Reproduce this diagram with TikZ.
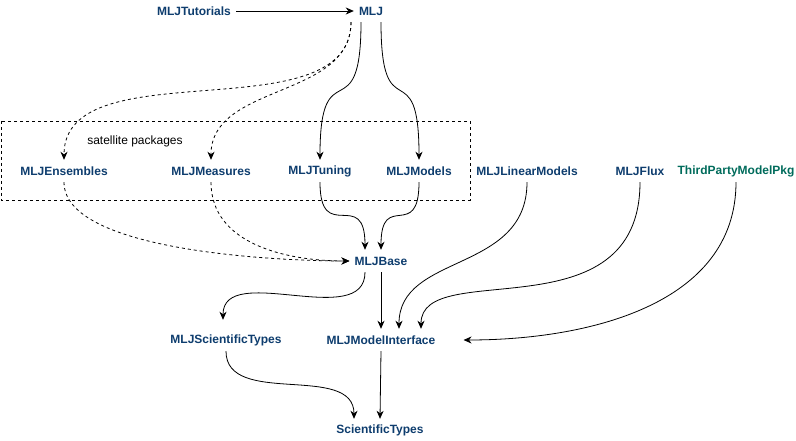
\documentclass[tikz,border=0pt]{standalone}
\usepackage{fontspec}
\setmainfont{Liberation Sans}
\usetikzlibrary{arrows.meta}

\definecolor{mljblue}{RGB}{14,61,110}
\definecolor{mljteal}{RGB}{0,107,91}

\begin{document}
\begin{tikzpicture}[x=1pt, y=-1pt,
    font=\fontsize{12pt}{14pt}\selectfont,
    >={Stealth[length=8pt,width=7pt,inset=2.5pt]},
    pkg/.style={font=\fontsize{12pt}{14pt}\selectfont\bfseries, text=mljblue, inner xsep=5pt, inner ysep=0pt, minimum height=22pt},
    dep/.style={->, line width=0.8pt},
    weakdep/.style={->, line width=0.8pt, dash pattern=on 3pt off 3pt}]

      \useasboundingbox (0,0) rectangle (796,441);

      % satellite box
      \draw [line width=0.8pt, dash pattern=on 3pt off 3pt] (1,121) rectangle (470,200);
      \node (satlabel) at (135,141) {satellite packages};

      \node[pkg] (tut) at (194,11) {MLJTutorials};
      \node[pkg] (mlj) at (371,11) {MLJ};

      \node[pkg] (ens) at (64,171) {MLJEnsembles};
      \node[pkg] (meas) at (211,171) {MLJMeasures};
      \node[pkg] (tuning) at (320,171) {MLJTuning};
      \node[pkg] (models) at (419,171) {MLJModels};
      \node[pkg] (lin) at (527,171) {MLJLinearModels};
      \node[pkg] (flux) at (640,171) {MLJFlux};
      \node[pkg, text=mljteal] (third) at (736,171) {ThirdPartyModelPkg};

      \node[pkg] (base) at (381,261) {MLJBase};
      \node[pkg] (sci) at (226,340) {MLJScientificTypes};
      \node[pkg] (mi) at (381,340) {MLJModelInterface};
      \node[pkg] (st) at (380,430) {ScientificTypes};

      \draw [dep] (tut) -- (mlj);

      \draw [weakdep] ([xshift=-20pt]mlj.south) to[out=-90, in=90, looseness=0.9] (ens.north);
      \draw [weakdep] ([xshift=-20pt]mlj.south) to[out=-90, in=90] (meas.north);
      \draw [dep] ([xshift=-10pt]mlj.south) to[out=-90, in=90, looseness=2] (tuning.north);
      \draw [dep] ([xshift=10pt]mlj.south) to[out=-90, in=90, looseness=2] (models.north);

      \draw [weakdep] (ens.south) to[out=-90, in=180, looseness=0.6] (base.west);
      \draw [weakdep] (meas.south) to[out=-90, in=180] (base.west);
      \draw [dep] (tuning.south) to[out=-90, in=90, looseness=2] ([xshift=-16pt]base.north);
      \draw [dep] (models.south) to[out=-90, in=90, looseness=2] (base.north);

      \draw [dep] ([xshift=-16pt]base.south) to[out=-90, in=90] ([xshift=-3pt, yshift=9pt]sci.north);
      \draw [dep] (base.south) -- (mi.north);
      \draw [dep] (lin.south) to[out=-90, in=90, out looseness=1.2] ([xshift=18pt]mi.north);
      \draw [dep] (flux.south) to[out=-90, in=90, out looseness=1.5, in looseness=0.7] ([xshift=40pt]mi.north);
      \draw [dep] (third.south) to[out=-90, in=0] ([xshift=23pt]mi.east);

      \draw [dep] (sci.south) to[out=-90, in=90] ([xshift=-26pt]st.north);
      \draw [dep] (mi.south) -- (st.north);

    \end{tikzpicture}
\end{document}
